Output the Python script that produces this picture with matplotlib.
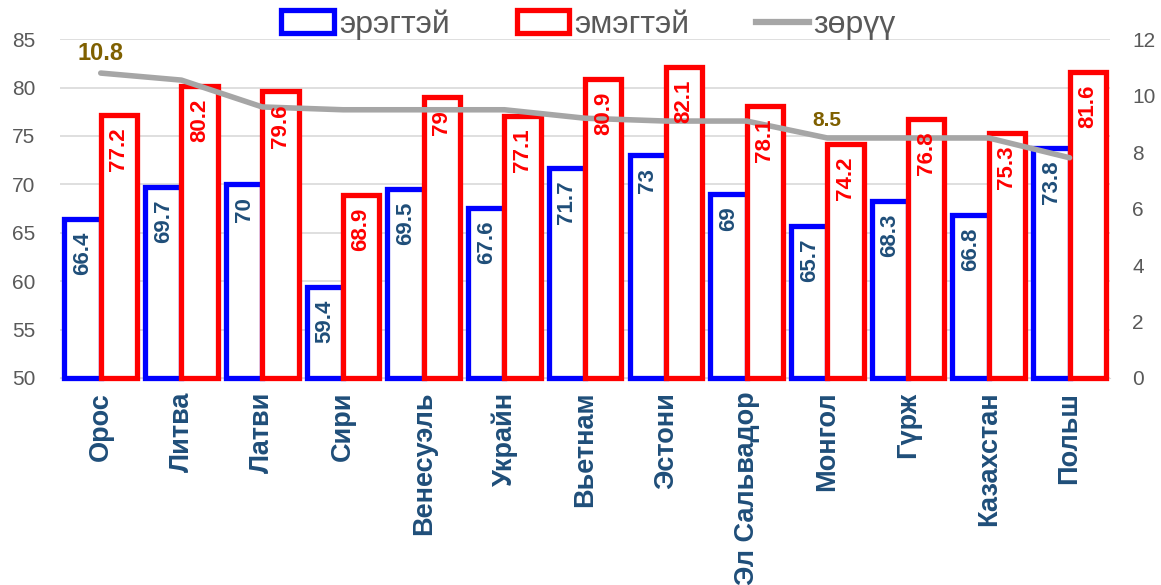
import matplotlib
matplotlib.use("Agg")
import matplotlib.pyplot as plt
import numpy as np
from matplotlib.patches import Patch
from matplotlib.lines import Line2D

plt.rcParams['font.family'] = ['Liberation Sans', 'DejaVu Sans']

countries = ["Орос", "Литва", "Латви", "Сири", "Венесуэль", "Украйн", "Вьетнам",
             "Эстони", "Эл Сальвадор", "Монгол", "Гүрж", "Казахстан", "Польш"]
male = [66.4, 69.7, 70, 59.4, 69.5, 67.6, 71.7, 73, 69, 65.7, 68.3, 66.8, 73.8]
female = [77.2, 80.2, 79.6, 68.9, 79, 77.1, 80.9, 82.1, 78.1, 74.2, 76.8, 75.3, 81.6]
gap = [10.8, 10.55, 9.6, 9.5, 9.5, 9.5, 9.2, 9.1, 9.1, 8.5, 8.5, 8.5, 7.8]
gap_labels = {0: "10.8", 9: "8.5"}

BLUE = "#0000FF"
RED = "#FF0000"
GREY = "#A6A6A6"
TICK = "#595959"
CAT = "#1F4E79"
GOLD = "#7F6000"

fig = plt.figure(figsize=(11.61, 5.85), dpi=100)
ax = fig.add_axes([0.052, 0.354, 0.904, 0.579])
ax2 = ax.twinx()

x = np.arange(len(countries))
w = 0.45
base = 50
ax.bar(x - w / 2, np.array(male) - base, w, bottom=base, facecolor="white",
       edgecolor=BLUE, linewidth=3.8, zorder=3, clip_on=False)
ax.bar(x + w / 2, np.array(female) - base, w, bottom=base, facecolor="white",
       edgecolor=RED, linewidth=3.8, zorder=4, clip_on=False)

ax.set_ylim(50, 85)
ax.set_xlim(-0.5, len(countries) - 0.5)
ax.set_yticks(range(50, 86, 5))
ax.set_xticks(x)
ax.set_xticklabels(countries, rotation=90, fontsize=19.5, fontweight="bold", color=CAT)
ax.yaxis.grid(True, color="#D9D9D9", linewidth=1.2, zorder=0)
ax.set_axisbelow(True)
ax.tick_params(axis="y", labelsize=15, labelcolor=TICK, length=0, pad=18)
ax.tick_params(axis="x", length=0, pad=10)

ax2.plot(x, gap, color=GREY, linewidth=4, zorder=5, solid_capstyle="round")
for i, t in gap_labels.items():
    ax2.text(x[i], gap[i] + 0.3, t, ha="center", va="bottom", color=GOLD,
             fontsize=17 if i == 0 else 15, fontweight="bold")
ax2.set_ylim(0, 12)
ax2.set_yticks(range(0, 13, 2))
ax2.tick_params(axis="y", labelsize=15, labelcolor=TICK, length=0, pad=16)

# value labels go on the top axes so they sit over the gap line
for i, (m, f) in enumerate(zip(male, female)):
    ax2.text(x[i] - w / 2, m - 1.3, f"{m:g}", rotation=90, ha="center", va="top",
             color=CAT, fontsize=16, fontweight="bold", zorder=6, transform=ax.transData)
    ax2.text(x[i] + w / 2, f - 1.3, f"{f:g}", rotation=90, ha="center", va="top",
             color=RED, fontsize=16, fontweight="bold", zorder=6, transform=ax.transData)

for a in (ax, ax2):
    for s in a.spines.values():
        s.set_visible(False)
ax.spines["bottom"].set_visible(True)
ax.spines["bottom"].set_color("#D9D9D9")

handles = [Patch(facecolor="white", edgecolor=BLUE, linewidth=3.8),
           Patch(facecolor="white", edgecolor=RED, linewidth=3.8),
           Line2D([0], [0], color=GREY, linewidth=4.5)]
fig.legend(handles, ["эрэгтэй", "эмэгтэй", "зөрүү"], loc="center",
           bbox_to_anchor=(0.507, 0.958), ncol=3, frameon=False, fontsize=23,
           labelcolor=TICK, handlelength=1.65, handleheight=0.7,
           columnspacing=2.1, handletextpad=0.15)

fig.savefig("out.png", dpi=100)
